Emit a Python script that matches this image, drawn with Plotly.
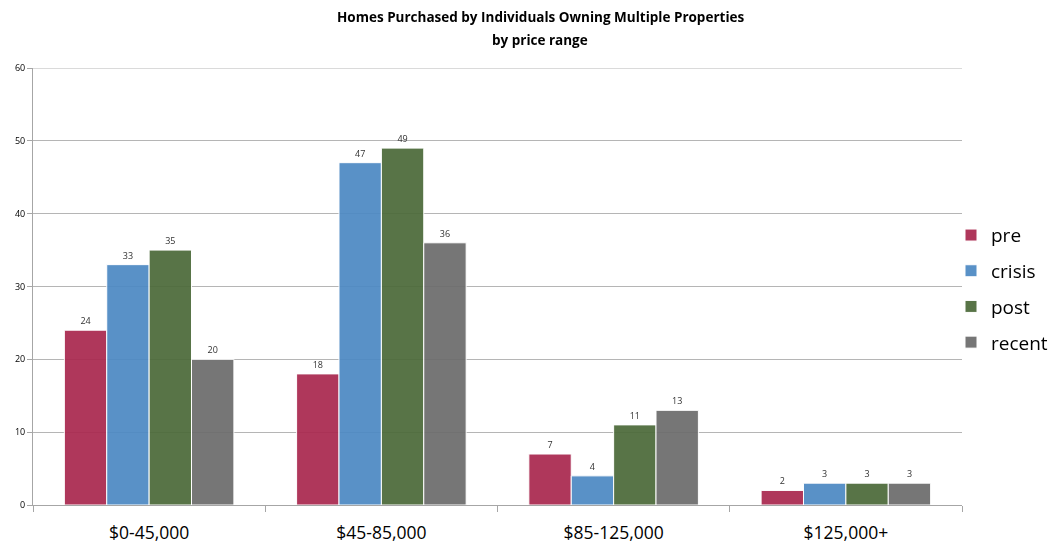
import plotly.graph_objects as go

# Price ranges and purchase counts per period
categories = ["$0-45,000", "$45-85,000", "$85-125,000", "$125,000+"]
pre = [24, 18, 7, 2]
crisis = [33, 47, 4, 3]
post = [35, 49, 11, 3]
recent = [20, 36, 13, 3]

series_names = ["pre", "crisis", "post", "recent"]
series_values = [pre, crisis, post, recent]
colors = ["#A9284F", "#4D89C3", "#4C6A3A", "#6C6C6C"]

title_lines = ["Homes Purchased by Individuals Owning Multiple Properties", "by price range"]

FONT = "Open Sans"
GRID = "#B5B5B5"

fig = go.Figure()
for name, vals, col in zip(series_names, series_values, colors):
    fig.add_trace(go.Bar(
        name=name,
        x=categories,
        y=vals,
        marker=dict(color=col, line=dict(color="white", width=1)),
        opacity=0.93,
        text=[str(v) for v in vals],
        textposition="outside",
        textfont=dict(family=FONT, size=9, color="#222222"),
        cliponaxis=False,
        legendgroup=name,
    ))

# Two-line bold title with wider line spacing
for line, ypix in zip(title_lines, [17, 40]):
    fig.add_annotation(
        text=f"<b>{line}</b>",
        xref="paper", yref="paper",
        x=(540 - 33) / 929, y=(505 - ypix) / 437,
        xanchor="center", yanchor="middle",
        showarrow=False,
        font=dict(family=FONT, size=13.5, color="#000000"),
    )

# Top gridline at the upper end of the value range
fig.add_shape(type="line", xref="paper", yref="y", x0=0, x1=1, y0=60, y1=60,
              line=dict(color=GRID, width=1), layer="below")

fig.update_layout(
    width=1054,
    height=546,
    margin=dict(l=33, r=92, t=68, b=41, autoexpand=False),
    paper_bgcolor="white",
    plot_bgcolor="white",
    barmode="group",
    bargap=0.27,
    bargroupgap=0.0,
    legend=dict(
        x=(951 - 33) / 929, xanchor="left",
        y=0.495, yanchor="middle",
        font=dict(family=FONT, size=19, color="#000000"),
        traceorder="grouped",
        tracegroupgap=8,
        itemwidth=30,
        bgcolor="rgba(0,0,0,0)",
    ),
    xaxis=dict(
        showline=True, linecolor="#A6A6A6", linewidth=1,
        ticks="outside", tickson="boundaries", ticklen=6, tickcolor="#A6A6A6",
        tickfont=dict(family=FONT, size=17.5, color="#000000"),
        ticklabelstandoff=12,
        showgrid=False,
    ),
    yaxis=dict(
        range=[0, 60], dtick=10,
        showline=True, linecolor="#A6A6A6", linewidth=1,
        ticks="outside", ticklen=5, tickcolor="#A6A6A6",
        tickfont=dict(family=FONT, size=9, color="#000000"),
        showgrid=True, gridcolor=GRID, gridwidth=1,
        zeroline=False,
    ),
)

fig.write_html("out.html")
